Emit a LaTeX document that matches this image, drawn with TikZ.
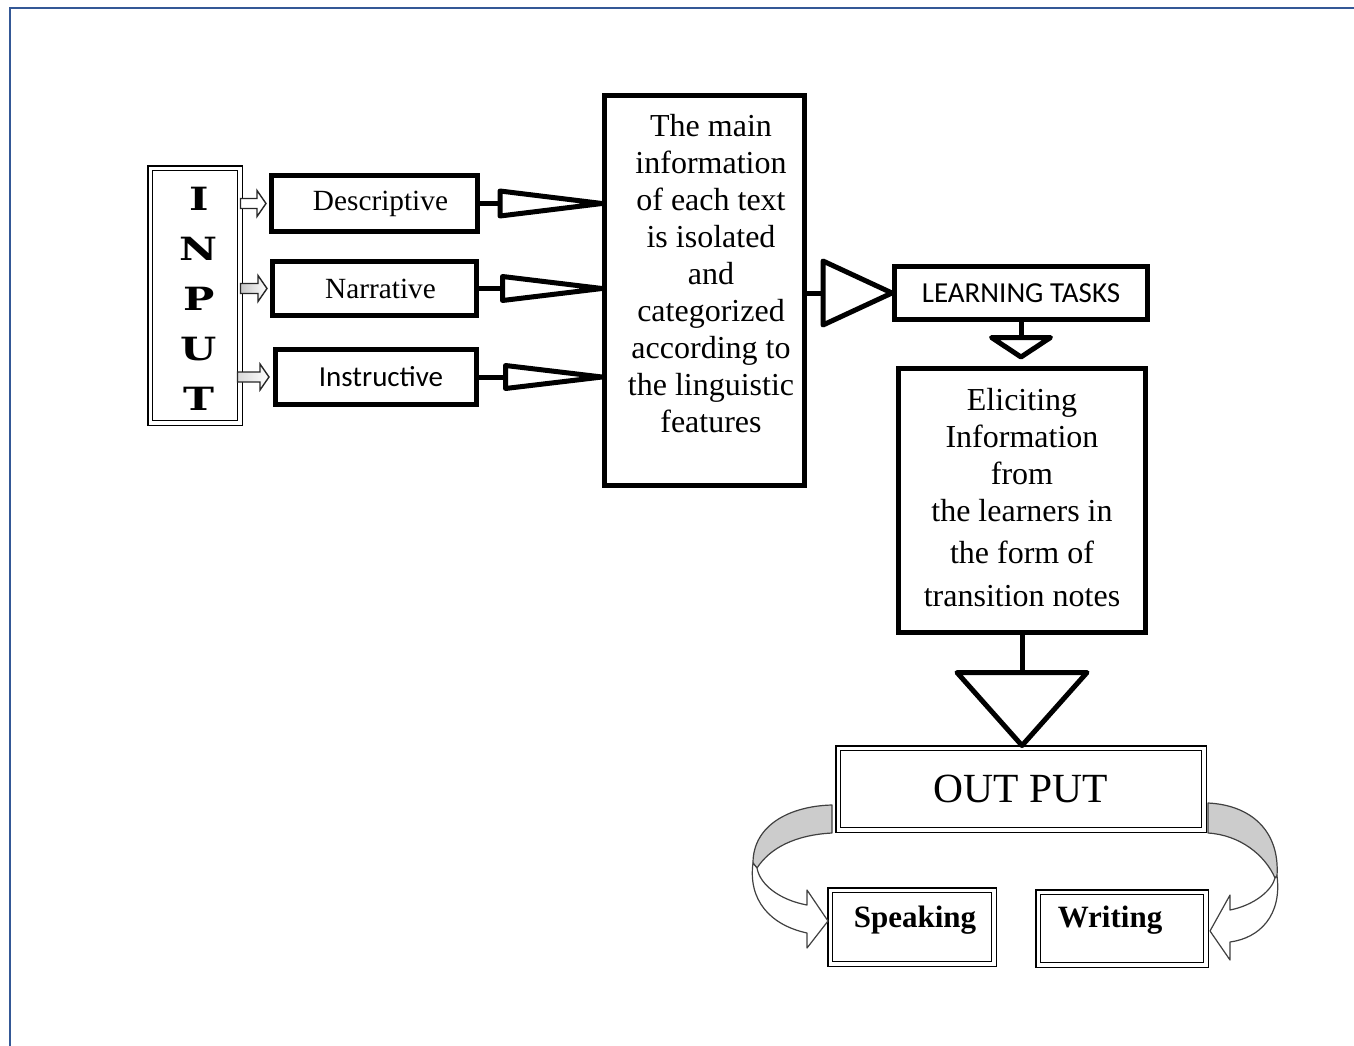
\documentclass[tikz,border=0pt]{standalone}
\usepackage{fontspec}
\setmainfont{Liberation Serif}
\newfontfamily\calibri{Carlito}
\newfontfamily\inputfont{DejaVu Serif}[FakeStretch=1.3]
\usetikzlibrary{calc}
\definecolor{framebl}{RGB}{52,88,150}

% hollow block arrow from #2 to #3 (kept at the height of #2)
\newcommand{\openarrow}[3][fill=white]{%
  \draw[smallarr, #1] let \p1=#2, \p2=#3 in
    (\x1,\y1+5pt) -- (\x2-9pt,\y1+5pt) -- (\x2-9pt,\y1+13pt) -- (\x2,\y1)
    -- (\x2-9pt,\y1-13pt) -- (\x2-9pt,\y1-5pt) -- (\x1,\y1-5pt) -- cycle;}

\begin{document}
\begin{tikzpicture}[
    x=1pt, y=-1pt,
    box/.style={draw, line width=5pt, inner sep=0pt, align=center},
    dbox/.style={draw, line width=1.4pt, double, double distance=3.5pt, inner sep=0pt, align=center},
    stem/.style={line width=5pt},
    tri/.style={draw, line width=5pt, fill=white, line join=round},
    smallarr/.style={draw=black!85, line width=1.4pt},
    curvarr/.style={draw=black!75, line width=1.2pt, line join=round},
    txtsmall/.style={font=\fontsize{29.3}{37}\selectfont},
    txtsans/.style={font=\calibri\fontsize{29}{35}\selectfont},
    txtbig/.style={font=\fontsize{32}{37}\selectfont, align=center, inner sep=0pt},
    txtbold/.style={font=\bfseries\fontsize{31}{36}\selectfont},
  ]
  \useasboundingbox (0,0) rectangle (1354,1046);

  % Page frame
  \draw[framebl, line width=2.5pt] (10,1046) -- (10,8) -- (1354,8);

  % Input column
  \node[dbox, minimum width=89.5, minimum height=254.5] (input) at (195,295.5) {};
  \node[font=\inputfont\bfseries\fontsize{32}{50}\selectfont, align=center, inner sep=0pt]
    (inputtxt) at (199,299) {I\\N\\P\\U\\T};

  % Text types
  \node[box, txtsmall, minimum width=206, minimum height=56] (desc) at (374.5,203.5) {\hspace*{12pt}Descriptive};
  \node[box, txtsmall, minimum width=204, minimum height=54] (narr) at (374.5,288.5) {\hspace*{12pt}Narrative};
  \node[box, txtsans, minimum width=201, minimum height=55] (instr) at (376,377) {\hspace*{10pt}Instructive};

  % Main information box
  \node[box, minimum width=200, minimum height=390] (main) at (704.5,290.5) {};
  \node[txtbig, anchor=north] (maintxt) at (711,114)
    {The main\\information\\of each text\\is isolated\\and\\categorized\\according to\\the linguistic\\features};

  % Tasks and eliciting
  \node[box, txtsans, minimum width=253, minimum height=53] (tasks) at (1021,293) {\raisebox{-3pt}{LEARNING TASKS}};
  \node[box, minimum width=247, minimum height=264] (elic) at (1022,500.5) {};
  \node[txtbig, anchor=north] (elictxt) at (1022,388)
    {Eliciting\\Information\\from\\the learners in\\[5pt]the form of\\[6pt]transition notes};

  % Output
  \node[dbox, minimum width=365.5, minimum height=81.5, font=\fontsize{41.5}{48}\selectfont]
    (out) at (1021,789) {OUT PUT};
  \node[dbox, minimum width=163.5, minimum height=73.5] (speak) at (912,927) {};
  \node[dbox, minimum width=167.5, minimum height=72.5] (writ) at (1122,928.5) {};
  \node[txtbold] (speaktxt) at (915,920) {Speaking};
  \node[txtbold] (writtxt) at (1110,920) {Writing};

  % Input arrows
  \openarrow{(input.east |- desc.west)}{($(desc.west)+(-3,0)$)}
  \openarrow[left color=gray!45, right color=white]{(input.east |- narr.west)}{($(narr.west)+(-3,0)$)}
  \openarrow[left color=gray!30, right color=white]{($(input.east |- instr.west)+(-3,0)$)}{($(instr.west)+(-4,0)$)}

  % Text types to main box
  \draw[stem] (desc.east) -- ++(20,0) coordinate (dbase);
  \draw[tri] ($(dbase)+(0,-12.5)$) -- (dbase -| main.west) -- ($(dbase)+(0,12.5)$) -- cycle;
  \draw[stem] (narr.east) -- ++(23.5,0) coordinate (nbase);
  \draw[tri] ($(nbase)+(0,-12)$) -- (nbase -| main.west) -- ($(nbase)+(0,12)$) -- cycle;
  \draw[stem] (instr.east) -- ++(26.5,0) coordinate (ibase);
  \draw[tri] ($(ibase)+(0,-11.5)$) -- (ibase -| main.west) -- ($(ibase)+(0,11.5)$) -- cycle;

  % Main box to tasks to eliciting to output
  \draw[stem] (main.east |- tasks.west) -- ++(16,0) coordinate (tbase);
  \draw[tri] ($(tbase)+(0,-32)$) -- (tasks.west) -- ($(tbase)+(0,32)$) -- cycle;
  \draw[stem] (tasks.south) -- ++(0,15.5) coordinate (ebase);
  \draw[tri] ($(ebase)+(-29.5,0)$) -- ($(ebase |- elic.north)+(0,-9)$) -- ($(ebase)+(29.5,0)$) -- cycle;
  \draw[stem] (elic.south) -- ++(0,37.5) coordinate (obase);
  \draw[tri] ($(obase)+(-65,0)$) -- ($(obase |- out.north)+(0,-2)$) -- ($(obase)+(65,0)$) -- cycle;

  % Curved arrows to speaking and writing
  \draw[curvarr, fill=gray!40] (832,805) .. controls (790,806) and (753,825) .. (753,863)
    -- (757,868) .. controls (770,848) and (795,835) .. (832,833) -- cycle;
  \draw[curvarr, fill=white] (753,863) .. controls (748,900) and (770,925) .. (807,933)
    -- (807,948) -- (828,921) -- (807,890) -- (807,905)
    .. controls (780,900) and (760,885) .. (757,868) -- cycle;
  \draw[curvarr, fill=gray!40] (1208,803) .. controls (1250,805) and (1280,830) .. (1277,876)
    -- (1275,878) .. controls (1265,855) and (1240,835) .. (1208,833) -- cycle;
  \draw[curvarr, fill=white] (1277,876) .. controls (1282,915) and (1260,938) .. (1230,942)
    -- (1230,960) -- (1210,931) -- (1230,895) -- (1230,910)
    .. controls (1255,905) and (1272,890) .. (1275,878) -- cycle;
\end{tikzpicture}
\end{document}
